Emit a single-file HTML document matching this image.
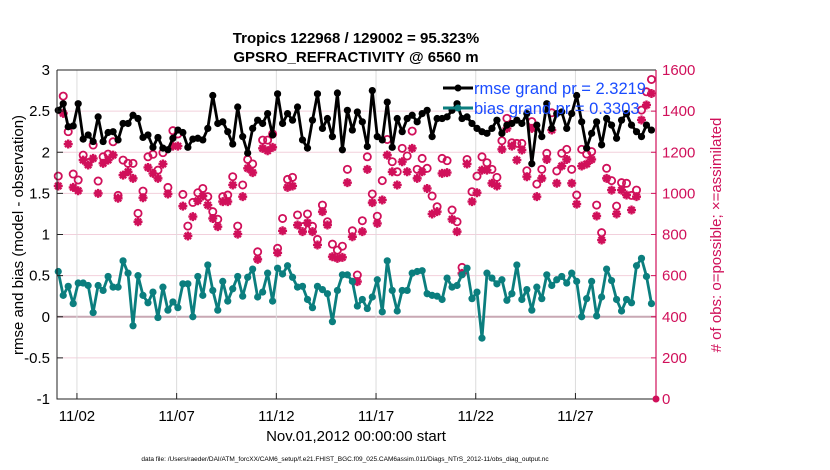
<!DOCTYPE html>
<html><head><meta charset="utf-8">
<style>
body{margin:0;background:#fff;}
svg{display:block;font-family:"Liberation Sans",Arial,sans-serif;}
</style></head>
<body>
<svg id="chart" width="830" height="470" viewBox="0 0 830 470" xmlns="http://www.w3.org/2000/svg">
<rect width="830" height="470" fill="#fff"/>
<g id="grid"></g>
<g id="series"></g>
<g id="axes"></g>
<text x="356" y="43" text-anchor="middle" font-size="15" font-weight="bold">Tropics 122968 / 129002 = 95.323%</text>
<text x="356" y="62" text-anchor="middle" font-size="15" font-weight="bold">GPSRO_REFRACTIVITY @ 6560 m</text>
<text transform="translate(23,235) rotate(-90)" text-anchor="middle" font-size="15">rmse and bias (model - observation)</text>
<text transform="translate(721,235) rotate(-90)" text-anchor="middle" font-size="15" fill="#d0105a"># of obs: o=possible; ×=assimilated</text>
<text x="356" y="441" text-anchor="middle" font-size="15">Nov.01,2012 00:00:00 start</text>
<text x="345" y="461" text-anchor="middle" font-size="6.5">data file: /Users/raeder/DAI/ATM_forcXX/CAM6_setup/f.e21.FHIST_BGC.f09_025.CAM6assim.011/Diags_NTrS_2012-11/obs_diag_output.nc</text>
<g id="legend">
<line x1="443" y1="88" x2="473" y2="88" stroke="#000" stroke-width="3"/>
<circle cx="458" cy="88" r="3.5" fill="#000"/>
<text x="474" y="94" font-size="16.5" fill="#1a4cff">rmse grand pr = 2.3219</text>
<line x1="443" y1="108" x2="473" y2="108" stroke="#0b7e7e" stroke-width="3"/>
<circle cx="458" cy="108" r="3.5" fill="#0b7e7e"/>
<text x="474" y="114" font-size="16.5" fill="#1a4cff">bias grand pr = 0.3303</text>
</g>
</svg>
<script>
const rmse=[2.51,2.59,2.31,2.32,2.59,2.16,2.21,2.13,2.43,2.13,2.24,2.25,2.15,2.35,2.35,2.45,2.41,2.18,2.21,2.06,2.18,2.05,2.03,2.17,2.27,2.24,2.06,2.16,2.17,2.15,
2.29,2.69,2.35,2.37,2.25,2.10,2.55,2.19,1.99,2.29,2.39,2.35,2.47,2.21,2.71,2.35,2.47,2.39,2.55,2.15,2.05,2.39,2.71,2.29,2.41,2.19,2.72,2.03,2.51,2.27,
2.49,2.37,2.07,2.75,2.19,2.15,2.61,2.06,2.41,2.25,2.41,2.45,2.37,2.47,2.51,2.19,2.41,2.41,2.43,2.51,2.59,2.41,2.43,2.35,2.29,2.25,2.23,2.29,2.39,2.23,
2.33,2.35,2.39,2.35,2.47,1.86,2.33,2.19,2.59,2.29,2.47,2.49,2.29,2.47,2.69,2.37,2.05,2.23,2.37,2.09,2.41,2.33,2.17,2.39,2.47,2.33,2.25,2.19,2.33,2.27];
const bias=[0.55,0.26,0.37,0.16,0.41,0.41,0.38,0.05,0.38,0.32,0.49,0.36,0.36,0.68,0.53,-0.11,0.50,0.26,0.17,0.30,-0.01,0.36,0.08,0.18,0.11,0.40,0.40,0.00,0.49,0.26,
0.63,0.32,0.08,0.43,0.19,0.34,0.49,0.25,0.48,0.58,0.24,0.30,0.53,0.19,0.59,0.52,0.62,0.48,0.36,0.37,0.21,0.11,0.37,0.33,0.28,-0.06,0.32,0.51,0.51,0.43,
0.13,0.21,0.10,0.24,0.45,0.06,0.68,0.32,0.07,0.32,0.32,0.53,0.55,0.56,0.28,0.26,0.25,0.21,0.47,0.36,0.38,0.51,0.59,0.22,0.30,-0.26,0.53,0.47,0.40,0.45,
0.20,0.28,0.63,0.21,0.33,0.08,0.36,0.22,0.51,0.38,0.45,0.49,0.41,0.53,0.43,0.00,0.22,0.43,0.01,0.24,0.58,0.44,0.21,0.07,0.21,0.17,0.62,0.71,0.49,0.16];
const possible=[1084,1473,1300,1094,1065,1186,1150,1235,1060,1178,1191,1251,990,1162,1146,1146,903,1011,1178,1190,1113,1198,1029,1305,1289,995,841,956,1003,1024,
984,911,874,984,992,1081,841,1041,1165,1143,716,1259,1259,1289,733,878,1068,1078,895,838,900,840,776,943,862,753,724,743,1117,818,
603,867,1178,997,889,1062,1262,1154,1105,1219,1182,1303,1117,1170,1122,987,935,1170,1159,919,862,640,1165,1008,1084,1178,1149,1117,1078,1256,
1365,1246,1243,1243,1110,1349,1045,1117,1195,1392,1109,1195,1214,1117,992,1214,1191,1203,943,809,1122,1062,938,1052,1049,990,1016,1405,1494,1554];
const assimilated=[1036,1389,1240,1029,1013,1162,1138,1170,1000,1146,1162,1186,976,1089,1105,1073,862,979,1126,1097,1073,1143,997,1230,1230,938,793,887,964,987,
943,878,838,960,960,1041,802,984,1122,1101,679,1219,1207,1224,711,818,1029,1036,846,814,857,814,749,911,846,692,684,689,1052,789,
571,814,1117,955,854,968,1186,1105,1041,1154,1105,1219,1073,1105,1024,900,911,1097,1101,874,814,611,1143,960,1003,1113,1113,1049,1036,1214,
1316,1230,1162,1211,1081,1316,984,1073,1165,1308,1049,1133,1165,1049,948,1133,1143,1165,890,773,1073,1016,900,1016,992,919,984,1357,1430,1486];
const leftTicks=[-1,-0.5,0,0.5,1,1.5,2,2.5,3];
const rightTicks=[0,200,400,600,800,1000,1200,1400,1600];
const dateTicks=[2,7,12,17,22,27];
const dateLabels=["11/02","11/07","11/12","11/17","11/22","11/27"];

const NS="http://www.w3.org/2000/svg";
const L=57,R=656,T=70,B=399;
const xDay=d=>L+(d-1)*(R-L)/30.04;
const xIdx=i=>xDay(1+0.0625+i*0.25);
const yL=v=>B-(v+1)*(B-T)/4;
const yR=v=>B-v*(B-T)/1600;
function mk(tag,attrs,parent){const e=document.createElementNS(NS,tag);for(const k in attrs)e.setAttribute(k,attrs[k]);parent.appendChild(e);return e;}
const grid=document.getElementById('grid'),ser=document.getElementById('series'),ax=document.getElementById('axes');

leftTicks.forEach(v=>{
  const y=yL(v);
  if(v>-1&&v<3){const g=mk('line',{x1:L,x2:R,y1:y,y2:y,stroke:v===0?'#c8a8b4':'#f2d0dc','stroke-width':v===0?2:1},grid);
  
  }
  const t=mk('line',{x1:L,x2:L+6,y1:y,y2:y,stroke:'#222'},ax);
  
  
  const lb=mk('text',{x:L-7,y:y+5,'text-anchor':'end','font-size':15},ax);
  lb.textContent=String(v);
  
  
});
rightTicks.forEach(v=>{
  const y=yR(v);
  const t=mk('line',{x1:R-5,x2:R,y1:y,y2:y,stroke:'#d0105a'},ax);
  
  
  const lb=mk('text',{x:R+6,y:y+5,'font-size':15,fill:'#d0105a'},ax);
  lb.textContent=String(v);
  
  
});
dateTicks.forEach((d,k)=>{
  const x=xDay(d);
  const g=mk('line',{x1:x,x2:x,y1:T,y2:B,stroke:'#dcdcdc'},grid);
  
  
  const t=mk('line',{x1:x,x2:x,y1:B-6,y2:B,stroke:'#222'},ax);
  
  
  const lb=mk('text',{x:x,y:B+22,'text-anchor':'middle','font-size':15},ax);
  lb.textContent=dateLabels[k];
  
  
});
const frame=mk('path',{d:`M${L},${T}H${R}M${L},${T}V${B}H${R}`,stroke:'#222',fill:'none'},ax);


const ra=mk('line',{x1:R,x2:R,y1:T,y2:B,stroke:'#d0105a','stroke-width':1.2},ax);


const zm=mk('circle',{cx:R,cy:B,r:3.5,fill:'#d0105a'},ax);



function star(x,y){
  const s=4.5,d=s*0.7;
  return `M${x-s},${y}H${x+s}M${x},${y-s}V${y+s}M${x-d},${y-d}L${x+d},${y+d}M${x-d},${y+d}L${x+d},${y-d}`;
}
possible.forEach((v,i)=>{
  const c=mk('circle',{cx:xIdx(i),cy:yR(v),r:3.6,fill:'none',stroke:'#d0105a','stroke-width':1.8},ser);
  
  
});
assimilated.forEach((v,i)=>{
  const p=mk('path',{d:star(xIdx(i),yR(v)),stroke:'#d0105a','stroke-width':2.4},ser);
  
  
});
function line(arr,color,name){
  const pts=arr.map((v,i)=>`${xIdx(i).toFixed(1)},${yL(v).toFixed(1)}`).join(' ');
  const pl=mk('polyline',{points:pts,fill:'none',stroke:color,'stroke-width':2.8,'stroke-linejoin':'round'},ser);
  
  
  arr.forEach((v,i)=>{
    const c=mk('circle',{cx:xIdx(i),cy:yL(v),r:3.6,fill:color},ser);
    
    
  });
}
line(bias,'#0b7e7e','bias');
line(rmse,'#000','rmse');
</script>
</body></html>
